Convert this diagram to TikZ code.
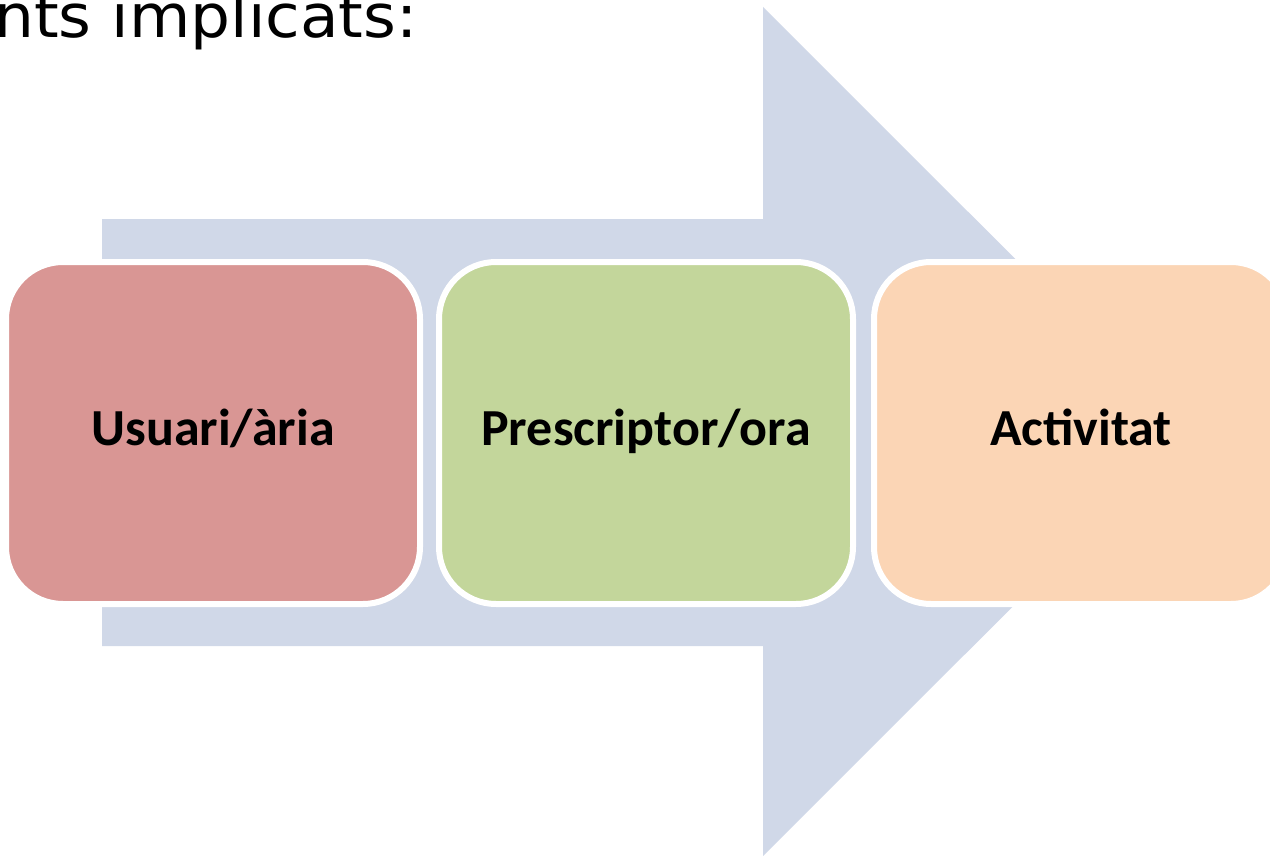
\documentclass[tikz,border=0pt]{standalone}
\usepackage{fontspec}
\newfontfamily\carlitofont{Carlito}
\newfontfamily\titlefont{DejaVu Sans}
\definecolor{arrowblue}{HTML}{D0D8E8}
\definecolor{boxred}{HTML}{D99694}
\definecolor{boxgreen}{HTML}{C3D69B}
\definecolor{boxorange}{HTML}{FBD5B5}
\tikzset{
  stagebox/.style={draw=white, line width=6pt, rounded corners=57pt,
    minimum width=414pt, minimum height=342pt, inner sep=0pt,
    text height=24pt, text depth=0pt,
    font=\carlitofont\bfseries\fontsize{52}{60}\selectfont},
  bigarrow/.style={fill=arrowblue, draw=none}
}
\begin{document}
\begin{tikzpicture}[x=1pt, y=-1pt]
\useasboundingbox (0,0) rectangle (1270,856);
\clip (0,0) rectangle (1270,856);
\fill[white] (0,0) rectangle (1270,856);
\node[anchor=base west, inner sep=0pt, xscale=1.05, font=\titlefont\fontsize{60}{70}\selectfont] (title) at (-6,38) {nts implicats:};
\path[bigarrow] (102,219) -- (763,219) -- (763,7) -- (1188,431.5) -- (763,856) -- (763,646) -- (102,646) -- cycle;
\node[stagebox, fill=boxred] (usuari) at (213,433) {Usuari/\`aria};
\node[stagebox, fill=boxgreen] (prescriptor) at (646,433) {Prescriptor/ora};
\node[stagebox, fill=boxorange] (activitat) at (1081,433) {Activitat};
\end{tikzpicture}
\end{document}
